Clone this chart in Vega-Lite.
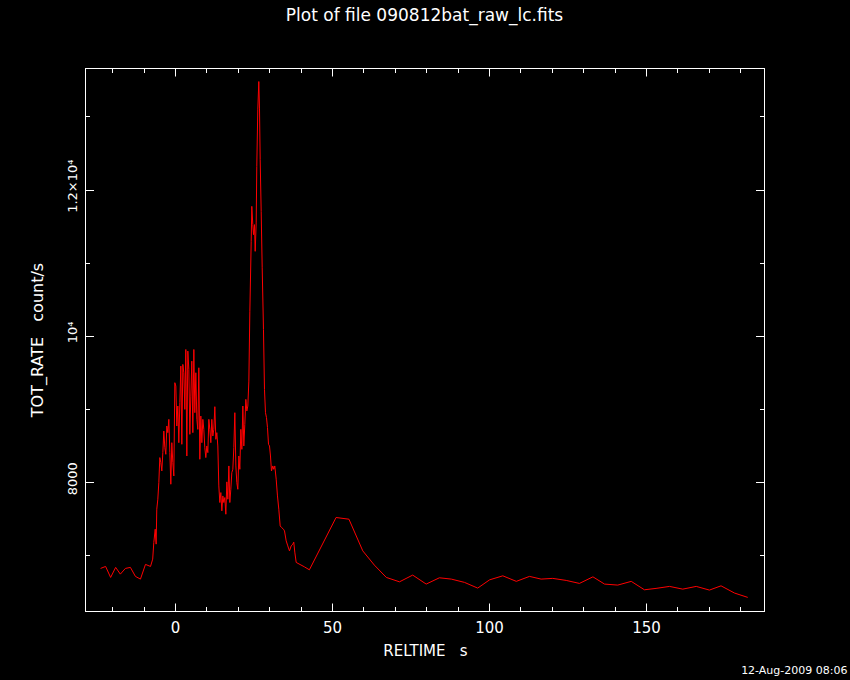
{
  "$schema": "https://vega.github.io/schema/vega-lite/v6.json",
  "width": 679,
  "height": 543,
  "autosize": {"type": "none"},
  "padding": {"left": 85, "top": 68, "right": 86, "bottom": 69},
  "background": "black",
  "title": {"text": "Plot of file 090812bat_raw_lc.fits", "color": "white", "font": "DejaVu Sans", "fontSize": 17, "fontWeight": "normal", "anchor": "middle", "frame": "group", "baseline": "alphabetic", "offset": 30},
  "config": {
    "view": {"stroke": "white", "strokeWidth": 1},
    "axis": {"grid": false, "domainColor": "white", "tickColor": "white", "labelColor": "white", "titleColor": "white", "labelFont": "DejaVu Sans", "titleFont": "DejaVu Sans", "titleFontWeight": "normal", "tickWidth": 1, "domainWidth": 1}
  },
  "data": {"values": [
    {"t": -23.7, "rate": 6822}, {"t": -22.1, "rate": 6849}, {"t": -20.5, "rate": 6699}, {"t": -18.9, "rate": 6836},
    {"t": -17.4, "rate": 6744}, {"t": -15.8, "rate": 6822}, {"t": -14.2, "rate": 6836}, {"t": -12.6, "rate": 6713},
    {"t": -11.0, "rate": 6676}, {"t": -9.4, "rate": 6877}, {"t": -7.8, "rate": 6849}, {"t": -7.1, "rate": 6949},
    {"t": -6.75, "rate": 7177}, {"t": -6.3, "rate": 7358}, {"t": -6.0, "rate": 7154}, {"t": -5.8, "rate": 7631},
    {"t": -5.47, "rate": 7768}, {"t": -5.15, "rate": 7995}, {"t": -4.83, "rate": 8337}, {"t": -4.51, "rate": 8268},
    {"t": -4.19, "rate": 8155}, {"t": -3.87, "rate": 8405}, {"t": -3.56, "rate": 8700}, {"t": -3.24, "rate": 8473},
    {"t": -2.92, "rate": 8382}, {"t": -2.60, "rate": 8769}, {"t": -2.28, "rate": 8678}, {"t": -1.96, "rate": 8860},
    {"t": -1.64, "rate": 8405}, {"t": -1.33, "rate": 7973}, {"t": -1.01, "rate": 8541}, {"t": -0.69, "rate": 8268},
    {"t": -0.37, "rate": 8086}, {"t": -0.05, "rate": 9361}, {"t": 0.27, "rate": 9315}, {"t": 0.58, "rate": 8769},
    {"t": 0.90, "rate": 9042}, {"t": 1.22, "rate": 8541}, {"t": 1.54, "rate": 9088}, {"t": 1.86, "rate": 9588},
    {"t": 2.18, "rate": 8519}, {"t": 2.50, "rate": 9611}, {"t": 2.81, "rate": 9497}, {"t": 3.13, "rate": 8996},
    {"t": 3.45, "rate": 9815}, {"t": 3.77, "rate": 8359}, {"t": 4.09, "rate": 9793}, {"t": 4.41, "rate": 9542},
    {"t": 4.73, "rate": 8655}, {"t": 5.04, "rate": 9178}, {"t": 5.36, "rate": 9656}, {"t": 5.68, "rate": 8678},
    {"t": 6.00, "rate": 9815}, {"t": 6.32, "rate": 8951}, {"t": 6.64, "rate": 9497}, {"t": 6.96, "rate": 8860},
    {"t": 7.27, "rate": 8723}, {"t": 7.59, "rate": 9565}, {"t": 7.91, "rate": 8314}, {"t": 8.23, "rate": 8905},
    {"t": 8.55, "rate": 8541}, {"t": 8.87, "rate": 8860}, {"t": 9.18, "rate": 8723}, {"t": 9.50, "rate": 8473},
    {"t": 9.82, "rate": 8337}, {"t": 10.14, "rate": 8496}, {"t": 10.46, "rate": 8405}, {"t": 10.78, "rate": 8860},
    {"t": 11.10, "rate": 8723}, {"t": 11.41, "rate": 8541}, {"t": 11.73, "rate": 8860}, {"t": 12.05, "rate": 8632},
    {"t": 12.37, "rate": 8723}, {"t": 12.69, "rate": 9033}, {"t": 13.01, "rate": 8587}, {"t": 13.32, "rate": 8678},
    {"t": 13.64, "rate": 8496}, {"t": 13.96, "rate": 7950}, {"t": 14.28, "rate": 7723}, {"t": 14.60, "rate": 7859},
    {"t": 14.92, "rate": 7609}, {"t": 15.24, "rate": 7813}, {"t": 15.55, "rate": 7723}, {"t": 15.87, "rate": 7791},
    {"t": 16.19, "rate": 7563}, {"t": 16.51, "rate": 8005}, {"t": 16.83, "rate": 7768}, {"t": 17.15, "rate": 8223},
    {"t": 17.46, "rate": 7723}, {"t": 17.78, "rate": 7904}, {"t": 18.10, "rate": 8132}, {"t": 18.42, "rate": 8177},
    {"t": 18.74, "rate": 8473}, {"t": 19.06, "rate": 8951}, {"t": 19.38, "rate": 8223}, {"t": 19.69, "rate": 7995},
    {"t": 20.01, "rate": 7904}, {"t": 20.33, "rate": 8359}, {"t": 20.65, "rate": 8177}, {"t": 20.97, "rate": 8723},
    {"t": 21.29, "rate": 8450}, {"t": 21.61, "rate": 9042}, {"t": 21.92, "rate": 8496}, {"t": 22.24, "rate": 8792},
    {"t": 22.56, "rate": 9133}, {"t": 22.88, "rate": 8974}, {"t": 23.20, "rate": 9042}, {"t": 23.52, "rate": 9383},
    {"t": 23.84, "rate": 10338}, {"t": 24.27, "rate": 11294}, {"t": 24.46, "rate": 11772}, {"t": 24.78, "rate": 11522},
    {"t": 25.00, "rate": 11385}, {"t": 25.32, "rate": 11522}, {"t": 25.54, "rate": 11157}, {"t": 25.86, "rate": 11545},
    {"t": 26.05, "rate": 12318}, {"t": 26.37, "rate": 13091}, {"t": 26.69, "rate": 13478}, {"t": 26.91, "rate": 13115},
    {"t": 27.13, "rate": 12409}, {"t": 27.45, "rate": 11703}, {"t": 27.77, "rate": 10931}, {"t": 28.18, "rate": 10088},
    {"t": 28.50, "rate": 9269}, {"t": 28.82, "rate": 8951}, {"t": 29.14, "rate": 8883}, {"t": 29.46, "rate": 8747},
    {"t": 29.78, "rate": 8519}, {"t": 30.10, "rate": 8496}, {"t": 30.41, "rate": 8359}, {"t": 30.73, "rate": 8154},
    {"t": 31.15, "rate": 8223}, {"t": 31.46, "rate": 8177}, {"t": 31.78, "rate": 8223}, {"t": 32.23, "rate": 8041},
    {"t": 32.64, "rate": 7813}, {"t": 33.06, "rate": 7631}, {"t": 33.50, "rate": 7403}, {"t": 33.92, "rate": 7382},
    {"t": 34.55, "rate": 7358}, {"t": 34.87, "rate": 7335}, {"t": 35.41, "rate": 7199}, {"t": 35.92, "rate": 7130},
    {"t": 36.46, "rate": 7062}, {"t": 37.00, "rate": 7130}, {"t": 37.52, "rate": 7154}, {"t": 37.83, "rate": 7181},
    {"t": 38.15, "rate": 7045}, {"t": 38.60, "rate": 6904}, {"t": 41.2, "rate": 6844}, {"t": 42.8, "rate": 6803},
    {"t": 51.3, "rate": 7518}, {"t": 55.4, "rate": 7495}, {"t": 59.8, "rate": 7062}, {"t": 63.5, "rate": 6867},
    {"t": 67.3, "rate": 6699}, {"t": 71.5, "rate": 6639}, {"t": 75.7, "rate": 6731}, {"t": 80.0, "rate": 6608},
    {"t": 84.2, "rate": 6694}, {"t": 88.0, "rate": 6676}, {"t": 92.2, "rate": 6631}, {"t": 96.4, "rate": 6553},
    {"t": 100.2, "rate": 6666}, {"t": 104.4, "rate": 6721}, {"t": 108.7, "rate": 6645}, {"t": 112.9, "rate": 6713},
    {"t": 116.6, "rate": 6676}, {"t": 120.3, "rate": 6686}, {"t": 124.6, "rate": 6658}, {"t": 128.8, "rate": 6617},
    {"t": 133.1, "rate": 6707}, {"t": 136.8, "rate": 6608}, {"t": 141.0, "rate": 6594}, {"t": 145.3, "rate": 6645},
    {"t": 149.5, "rate": 6530}, {"t": 153.2, "rate": 6549}, {"t": 157.5, "rate": 6576}, {"t": 161.7, "rate": 6539},
    {"t": 166.0, "rate": 6576}, {"t": 170.2, "rate": 6526}, {"t": 173.9, "rate": 6584}, {"t": 178.2, "rate": 6485},
    {"t": 182.4, "rate": 6426}
  ]},
  "resolve": {"axis": {"x": "independent", "y": "independent"}},
  "layer": [
    {
      "mark": {"type": "line", "color": "#ff0000", "strokeWidth": 1},
      "encoding": {
        "x": {"field": "t", "type": "quantitative", "scale": {"domain": [-28.66, 187.58], "nice": false, "zero": false},
          "axis": {"orient": "bottom", "values": [0, 50, 100, 150], "ticks": false, "labelFontSize": 15, "labelPadding": 9.5, "labelBaseline": "top", "labelAlign": "center", "labelAngle": 0, "labelFlush": false, "format": "d",
            "title": "RELTIME\u00a0\u00a0\u00a0s", "titleFontSize": 15, "titleX": 340, "titleY": 44, "titleAlign": "center", "titleBaseline": "alphabetic", "titleAngle": 0}},
        "y": {"field": "rate", "type": "quantitative", "scale": {"domain": [6240, 13663], "nice": false, "zero": false},
          "axis": {"orient": "left", "values": [8000, 10000, 12000], "ticks": false, "labelExpr": "datum.value == 8000 ? '8000' : datum.value == 10000 ? '10⁴' : '1.2×10⁴'", "labelAngle": -90, "labelAlign": "center", "labelBaseline": "alphabetic", "labelPadding": 9, "labelFontSize": 13, "labelOffset": -4,
            "title": "TOT_RATE\u00a0\u00a0\u00a0count/s", "titleFontSize": 16, "titleAngle": -90, "titleX": -42.5, "titleY": 271.5, "titleAlign": "center", "titleBaseline": "alphabetic"}}
      }
    },
    {
      "mark": {"type": "line", "strokeOpacity": 0},
      "encoding": {
        "x": {"field": "t", "type": "quantitative", "scale": {"domain": [-28.66, 187.58], "nice": false, "zero": false},
          "axis": {"orient": "bottom", "values": [0, 50, 100, 150], "tickSize": -8, "labels": false, "title": null}},
        "y": {"field": "rate", "type": "quantitative", "scale": {"domain": [6240, 13663], "nice": false, "zero": false},
          "axis": {"orient": "left", "values": [8000, 10000, 12000], "tickSize": -8.5, "labels": false, "title": null}}
      }
    },
    {
      "mark": {"type": "line", "strokeOpacity": 0},
      "encoding": {
        "x": {"field": "t", "type": "quantitative", "scale": {"domain": [-28.66, 187.58], "nice": false, "zero": false},
          "axis": {"orient": "bottom", "values": [-20, -10, 10, 20, 30, 40, 60, 70, 80, 90, 110, 120, 130, 140, 160, 170, 180], "tickSize": -4.5, "labels": false,
            "title": "12-Aug-2009 08:06", "titleFontSize": 11, "titleX": 762, "titleY": 62, "titleAlign": "right", "titleBaseline": "alphabetic", "titleAngle": 0}},
        "y": {"field": "rate", "type": "quantitative", "scale": {"domain": [6240, 13663], "nice": false, "zero": false},
          "axis": {"orient": "left", "values": [7000, 9000, 11000, 13000], "tickSize": -4.5, "labels": false, "title": null}}
      }
    },
    {
      "mark": {"type": "line", "strokeOpacity": 0},
      "encoding": {
        "x": {"field": "t", "type": "quantitative", "scale": {"domain": [-28.66, 187.58], "nice": false, "zero": false},
          "axis": {"orient": "top", "values": [0, 50, 100, 150], "tickSize": -8, "labels": false, "title": null}},
        "y": {"field": "rate", "type": "quantitative", "scale": {"domain": [6240, 13663], "nice": false, "zero": false},
          "axis": {"orient": "right", "values": [8000, 10000, 12000], "tickSize": -8.5, "labels": false, "title": null}}
      }
    },
    {
      "mark": {"type": "line", "strokeOpacity": 0},
      "encoding": {
        "x": {"field": "t", "type": "quantitative", "scale": {"domain": [-28.66, 187.58], "nice": false, "zero": false},
          "axis": {"orient": "top", "values": [-20, -10, 10, 20, 30, 40, 60, 70, 80, 90, 110, 120, 130, 140, 160, 170, 180], "tickSize": -4.5, "labels": false, "title": null}},
        "y": {"field": "rate", "type": "quantitative", "scale": {"domain": [6240, 13663], "nice": false, "zero": false},
          "axis": {"orient": "right", "values": [7000, 9000, 11000, 13000], "tickSize": -4.5, "labels": false, "title": null}}
      }
    }
  ]
}
